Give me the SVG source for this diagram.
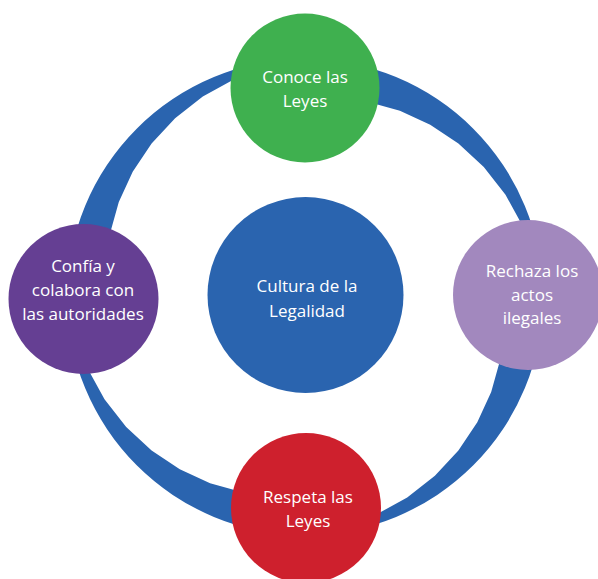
<svg xmlns="http://www.w3.org/2000/svg" width="598" height="579" viewBox="0 0 598 579">
<style>
.band{fill:#2A64AF}
.lbl{font-family:"Open Sans","Noto Sans",sans-serif;font-size:17px;fill:#ffffff;text-anchor:middle}
</style>
<defs>
<path id="band" d="M238,0 A238,238 0 0 1 0,238 L36.4,230.1 L70.8,217.8 L102.2,200.5 L129.9,178.8 L153.4,153.4 L172.3,125.2 L186.2,94.9 L195.0,63.4 L198.5,31.4 L197,0 Z"/>
</defs>
<rect width="598" height="579" fill="#ffffff"/>
<g id="connectors">
<use href="#band" class="band" transform="translate(305,297) rotate(0)"/>
<use href="#band" class="band" transform="translate(305,297) rotate(90)"/>
<use href="#band" class="band" transform="translate(305,297) rotate(180)"/>
<use href="#band" class="band" transform="translate(305,297) rotate(270)"/>
</g>
<g id="center">
<circle cx="305.5" cy="295" r="98" fill="#2A64AF"/>
<text class="lbl" x="307" y="292">Cultura de la</text>
<text class="lbl" x="307" y="317">Legalidad</text>
</g>
<g id="conoce">
<circle cx="305" cy="88" r="74.5" fill="#3FB04F"/>
<text class="lbl" x="305" y="83">Conoce las</text>
<text class="lbl" x="305" y="107">Leyes</text>
</g>
<g id="rechaza">
<circle cx="528" cy="295" r="75" fill="#A288BE"/>
<text class="lbl" x="532" y="277">Rechaza los</text>
<text class="lbl" x="532" y="301">actos</text>
<text class="lbl" x="532" y="324">ilegales</text>
</g>
<g id="respeta">
<circle cx="306" cy="508" r="75" fill="#CE202D"/>
<text class="lbl" x="308" y="503">Respeta las</text>
<text class="lbl" x="308" y="527">Leyes</text>
</g>
<g id="confia">
<circle cx="83.5" cy="299" r="75" fill="#653F93"/>
<text class="lbl" x="83" y="272">Confía y</text>
<text class="lbl" x="83" y="296">colabora con</text>
<text class="lbl" x="83" y="320">las autoridades</text>
</g>
</svg>
